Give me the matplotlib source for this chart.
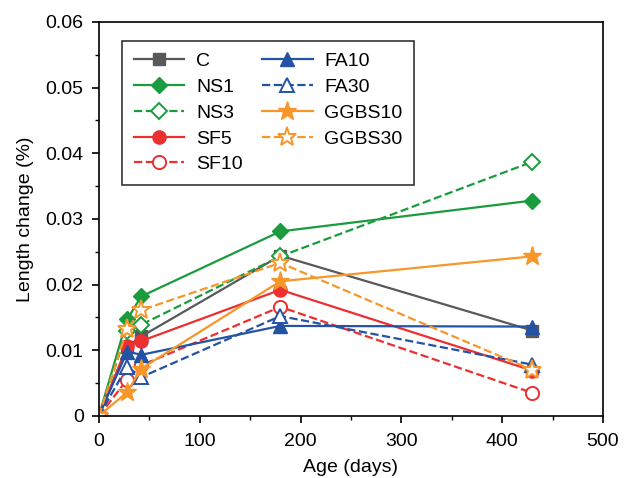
import numpy as np
import matplotlib.pyplot as plt
from matplotlib.ticker import MultipleLocator

plt.rcParams['font.family'] = ['Liberation Sans', 'DejaVu Sans']

age = [0, 28, 42, 180, 430]
C = [0, 0.0105, 0.0121, 0.0244, 0.0130]
NS1 = [0, 0.0147, 0.0182, 0.0281, 0.0328]
NS3 = [0, 0.0130, 0.0139, 0.0243, 0.0387]
SF5 = [0, 0.0106, 0.0114, 0.0192, 0.0069]
SF10 = [0, 0.0055, 0.0077, 0.0166, 0.0035]
FA10 = [0, 0.0098, 0.0093, 0.0137, 0.0136]
FA30 = [0, 0.0075, 0.0059, 0.0152, 0.0078]
GGBS10 = [0, 0.0036, 0.0072, 0.0205, 0.0243]
GGBS30 = [0, 0.0132, 0.0161, 0.0233, 0.0070]

gray = '#58595b'
green = '#1a9c3e'
red = '#ec2f2f'
blue = '#2452a4'
orange = '#f7962a'

fig = plt.figure(figsize=(6.34, 4.78), dpi=100)
ax = fig.add_axes([0.156, 0.130, 0.795, 0.824])

lw = 1.6
ax.plot(age, C, color=gray, marker='s', ms=8, lw=lw, label='C')
ax.plot(age, NS1, color=green, marker='D', ms=8.5, lw=lw, label='NS1')
ax.plot(age, NS3, color=green, marker='D', ms=8.5, lw=lw, ls='--', mfc='white', mew=1.4, label='NS3')
ax.plot(age, SF5, color=red, marker='o', ms=9.5, lw=lw, label='SF5')
ax.plot(age, SF10, color=red, marker='o', ms=9.5, lw=lw, ls='--', mfc='white', mew=1.4, label='SF10')
ax.plot(age, FA10, color=blue, marker='^', ms=9.5, lw=lw, label='FA10')
ax.plot(age, FA30, color=blue, marker='^', ms=9.5, lw=lw, ls='--', mfc='white', mew=1.4, label='FA30')
ax.plot(age, GGBS10, color=orange, marker='*', ms=14, lw=lw, label='GGBS10')
ax.plot(age, GGBS30, color=orange, marker='*', ms=14, lw=lw, ls='--', mfc='white', mew=1.4, label='GGBS30')

ax.set_xlim(0, 500)
ax.set_ylim(0, 0.06)
ax.set_xticks([0, 100, 200, 300, 400, 500])
ax.set_yticks([0, 0.01, 0.02, 0.03, 0.04, 0.05, 0.06])
ax.set_yticklabels(['0', '0.01', '0.02', '0.03', '0.04', '0.05', '0.06'])
ax.xaxis.set_minor_locator(MultipleLocator(50))
ax.yaxis.set_minor_locator(MultipleLocator(0.005))
ax.tick_params(which='major', labelsize=14, direction='out', length=5, width=1.2)
ax.tick_params(axis='x', which='major', pad=7)
ax.tick_params(axis='y', which='major', pad=6)
ax.tick_params(which='minor', direction='out', length=3, width=1.0)
ax.set_xlabel('Age (days)', fontsize=14, labelpad=7)
ax.set_ylabel('Length change (%)', fontsize=14, labelpad=8)
for s in ax.spines.values():
    s.set_linewidth(1.2)

leg = ax.legend(ncol=2, loc='upper left', bbox_to_anchor=(0.046, 0.952), fontsize=14,
                frameon=True, fancybox=False, edgecolor='black', handlelength=2.6,
                columnspacing=1.0, labelspacing=0.42, borderpad=0.6, handletextpad=0.6,
                borderaxespad=0)
leg.get_frame().set_linewidth(1.2)

plt.savefig('out.png', dpi=100)
